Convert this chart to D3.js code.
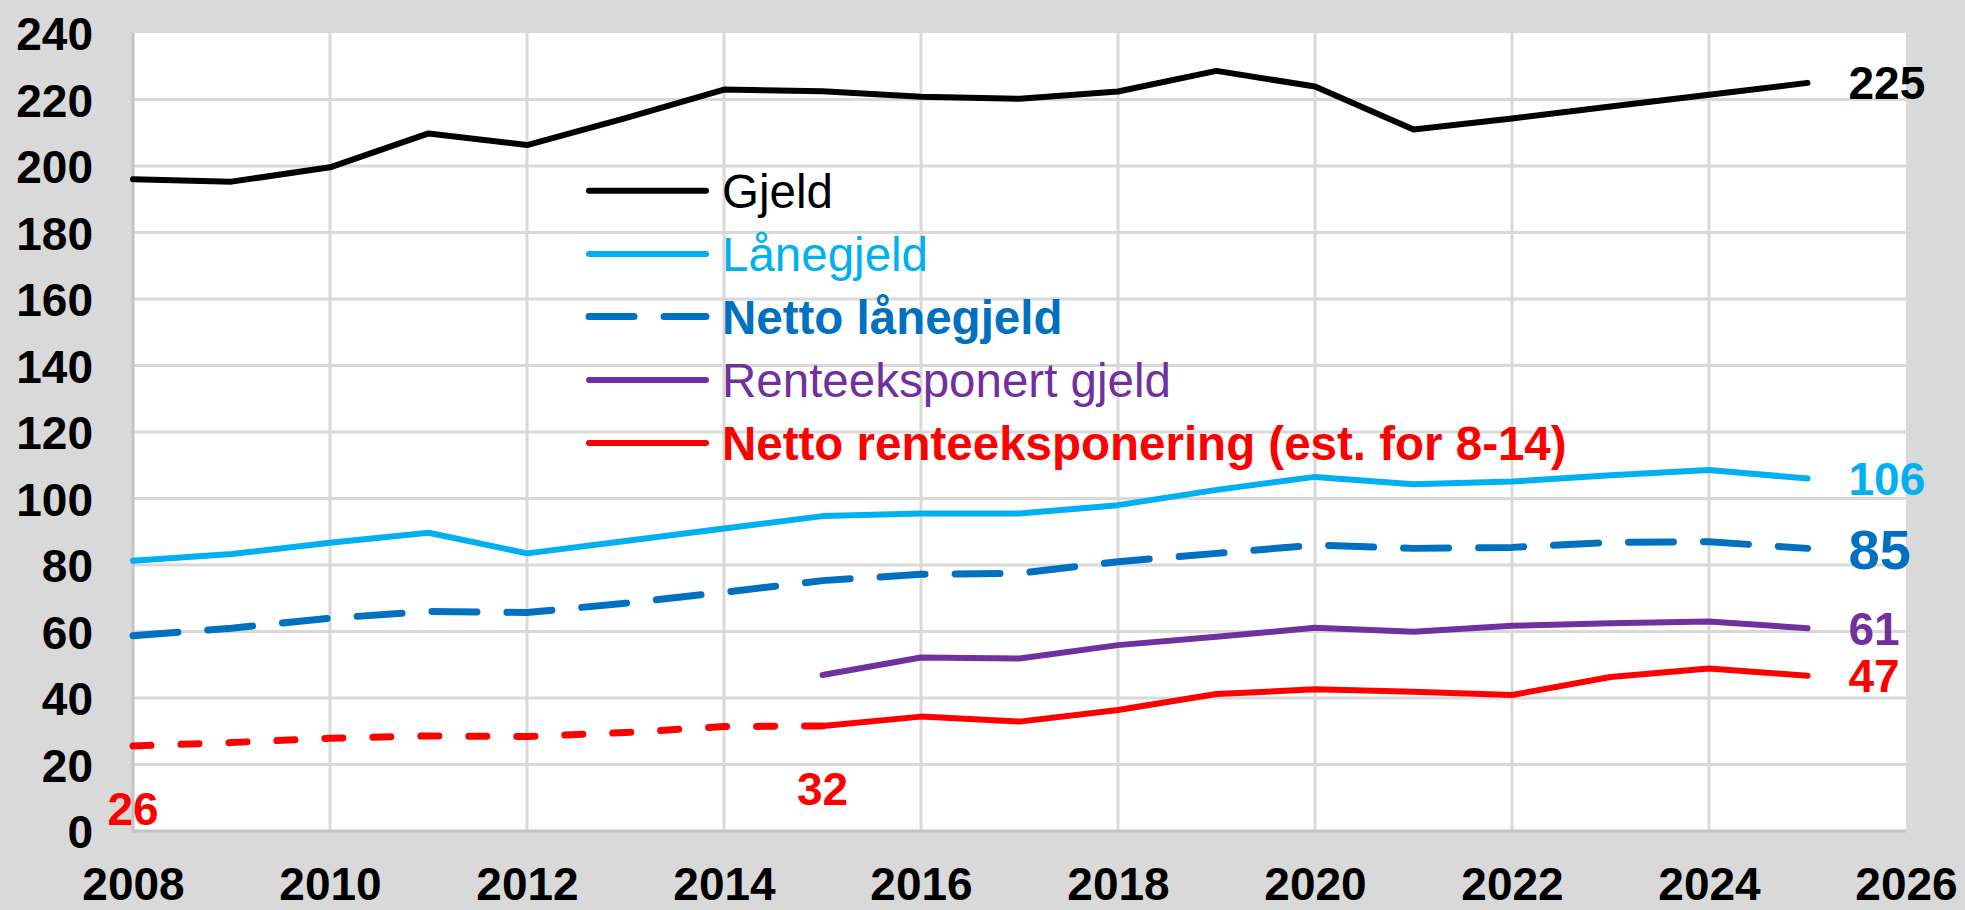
<!DOCTYPE html>
<html>
<head>
<meta charset="utf-8">
<script src="https://cdn.jsdelivr.net/npm/d3@7"></script>
<style>
  html, body { margin: 0; padding: 0; background: #d9d9d9; }
  svg { display: block; }
  text { font-family: "Liberation Sans", Arial, sans-serif; }
</style>
</head>
<body>
<script>
// ---- Data ----
const years = [2008, 2009, 2010, 2011, 2012, 2013, 2014, 2015, 2016, 2017, 2018, 2019, 2020, 2021, 2022, 2023, 2024, 2025];
const gjeld = [196, 195.3, 199.6, 209.8, 206.3, 214.4, 223, 222.5, 220.8, 220.2, 222.4, 228.6, 223.9, 211, 214.3, 217.9, 221.4, 225];
const laanegjeld = [81.3, 83.3, 86.7, 89.7, 83.5, 87.2, 91, 94.7, 95.5, 95.5, 98, 102.6, 106.5, 104.3, 105.1, 107, 108.6, 106];
const nettoLaanegjeld = [58.7, 61, 64, 66, 65.7, 68.5, 71.8, 75.3, 77.2, 77.5, 81, 83.5, 86, 85, 85.3, 86.8, 87, 85];
const renteeksponertGjeld = [null, null, null, null, null, null, null, 46.9, 52.2, 51.9, 55.9, 58.4, 61.1, 59.9, 61.7, 62.5, 63, 61];
const nettoRenteeksponering = [25.6, 26.6, 27.9, 28.6, 28.4, 29.6, 31.4, 31.6, 34.4, 32.9, 36.4, 41.2, 42.6, 41.9, 40.9, 46.3, 48.9, 46.7];
const estimatedUntil = 2015; // dashed (estimated) part of netto renteeksponering
const yTicks = [0, 20, 40, 60, 80, 100, 120, 140, 160, 180, 200, 220, 240];
const xTicks = [2008, 2010, 2012, 2014, 2016, 2018, 2020, 2022, 2024, 2026];
const legendLabels = ["Gjeld", "Lånegjeld", "Netto lånegjeld", "Renteeksponert gjeld", "Netto renteeksponering (est. for 8-14)"];

// ---- Layout ----
const W = 1965, H = 910;
const plot = { left: 133, right: 1906, top: 33, bottom: 831 };

const svg = d3.select("body").append("svg").attr("width", W).attr("height", H);
svg.append("rect").attr("width", W).attr("height", H).attr("fill", "#d9d9d9");

const x = d3.scaleLinear().domain([2008, 2026]).range([plot.left, plot.right]);
const y = d3.scaleLinear().domain([0, 240]).range([plot.bottom, plot.top]);

svg.append("rect")
  .attr("x", plot.left).attr("y", plot.top)
  .attr("width", plot.right - plot.left).attr("height", plot.bottom - plot.top)
  .attr("fill", "#ffffff");

// gridlines
const grid = svg.append("g");
grid.selectAll("line.h").data(yTicks.filter(d => d > 0 && d < 240)).join("line")
  .attr("x1", plot.left).attr("x2", plot.right)
  .attr("y1", d => y(d)).attr("y2", d => y(d))
  .attr("stroke", "#d9d9d9").attr("stroke-width", 3);
grid.selectAll("line.v").data(xTicks.filter(d => d > 2008 && d < 2026)).join("line")
  .attr("y1", plot.top).attr("y2", plot.bottom)
  .attr("x1", d => x(d)).attr("x2", d => x(d))
  .attr("stroke", "#d9d9d9").attr("stroke-width", 3);

// axis lines
svg.append("line").attr("x1", plot.left).attr("x2", plot.left).attr("y1", plot.top).attr("y2", plot.bottom + 1.5)
  .attr("stroke", "#c4c4c4").attr("stroke-width", 3);
svg.append("line").attr("x1", plot.left).attr("x2", plot.right).attr("y1", plot.bottom).attr("y2", plot.bottom)
  .attr("stroke", "#c4c4c4").attr("stroke-width", 3);

// axes
const yAxis = svg.append("g").attr("transform", `translate(${plot.left - 40},0)`)
  .call(d3.axisLeft(y).tickValues(yTicks).tickSize(0).tickPadding(0).tickFormat(d3.format("d")));
yAxis.select(".domain").remove();
yAxis.selectAll("text").attr("font-size", 46).attr("font-weight", "bold").attr("fill", "#000")
  .attr("font-family", "Liberation Sans, Arial, sans-serif").attr("dy", "0.36em");

const xAxis = svg.append("g").attr("transform", `translate(0,${plot.bottom})`)
  .call(d3.axisBottom(x).tickValues(xTicks).tickSize(0).tickPadding(0).tickFormat(d3.format("d")));
xAxis.select(".domain").remove();
xAxis.selectAll("text").attr("font-size", 46).attr("font-weight", "bold").attr("fill", "#000")
  .attr("font-family", "Liberation Sans, Arial, sans-serif").attr("dy", null).attr("y", 69);

// lines
const line = d3.line().defined(d => d[1] != null).x(d => x(d[0])).y(d => y(d[1]));
const pairs = arr => years.map((yr, i) => [yr, arr[i]]);

const series = [
  { data: gjeld, color: "#000000", dash: null, width: 6 },
  { data: laanegjeld, color: "#00b0f0", dash: null, width: 6 },
  { data: nettoLaanegjeld, color: "#0070c0", dash: "45,30", width: 7 },
  { data: renteeksponertGjeld, color: "#7030a0", dash: null, width: 6 }
];
series.forEach(s => {
  svg.append("path").datum(pairs(s.data)).attr("d", line)
    .attr("fill", "none").attr("stroke", s.color).attr("stroke-width", s.width)
    .attr("stroke-linecap", "round").attr("stroke-linejoin", "round")
    .attr("stroke-dasharray", s.dash);
});
const redPairs = pairs(nettoRenteeksponering);
svg.append("path").datum(redPairs.filter(d => d[0] <= estimatedUntil)).attr("d", line)
  .attr("fill", "none").attr("stroke", "#ff0000").attr("stroke-width", 7)
  .attr("stroke-linecap", "round").attr("stroke-dasharray", "18,30");
svg.append("path").datum(redPairs.filter(d => d[0] >= estimatedUntil)).attr("d", line)
  .attr("fill", "none").attr("stroke", "#ff0000").attr("stroke-width", 6)
  .attr("stroke-linecap", "round").attr("stroke-linejoin", "round");

// end labels
const last = years.length - 1;
const endLabels = [
  { v: gjeld[last], color: "#000000", size: 46 },
  { v: laanegjeld[last], color: "#00b0f0", size: 46 },
  { v: nettoLaanegjeld[last], color: "#0070c0", size: 56 },
  { v: renteeksponertGjeld[last], color: "#7030a0", size: 46 },
  { v: nettoRenteeksponering[last], color: "#ff0000", size: 46 }
];
svg.selectAll("text.endlab").data(endLabels).join("text")
  .attr("class", "endlab")
  .attr("x", x(years[last]) + 41)
  .attr("y", d => y(d.v))
  .attr("dy", "0.36em")
  .attr("font-size", d => d.size).attr("font-weight", "bold").attr("fill", d => d.color)
  .text(d => d3.format(".0f")(d.v));

// red point labels
const redLabels = [0, years.indexOf(estimatedUntil)];
svg.selectAll("text.redlab").data(redLabels).join("text")
  .attr("x", i => x(years[i])).attr("y", i => y(nettoRenteeksponering[i]) + 79)
  .attr("text-anchor", "middle")
  .attr("font-size", 46).attr("font-weight", "bold").attr("fill", "#ff0000")
  .text(i => d3.format(".0f")(nettoRenteeksponering[i]));

// legend
const legend = [
  { color: "#000000", dash: null, bold: false, width: 6 },
  { color: "#00b0f0", dash: null, bold: false, width: 6 },
  { color: "#0070c0", dash: "45,30", bold: true, width: 7 },
  { color: "#7030a0", dash: null, bold: false, width: 6 },
  { color: "#ff0000", dash: null, bold: true, width: 6 }
];
const legY = [190.7, 254, 316.5, 380, 443];
const lg = svg.append("g");
legend.forEach((l, i) => {
  lg.append("line").attr("x1", 589).attr("x2", 706).attr("y1", legY[i]).attr("y2", legY[i])
    .attr("stroke", l.color).attr("stroke-width", l.width).attr("stroke-linecap", "round")
    .attr("stroke-dasharray", l.dash);
  lg.append("text").attr("x", 722).attr("y", legY[i]).attr("dy", "0.36em")
    .attr("font-size", 47.5).attr("font-weight", l.bold ? "bold" : "normal").attr("fill", l.color)
    .text(legendLabels[i]);
});
</script>
</body>
</html>
